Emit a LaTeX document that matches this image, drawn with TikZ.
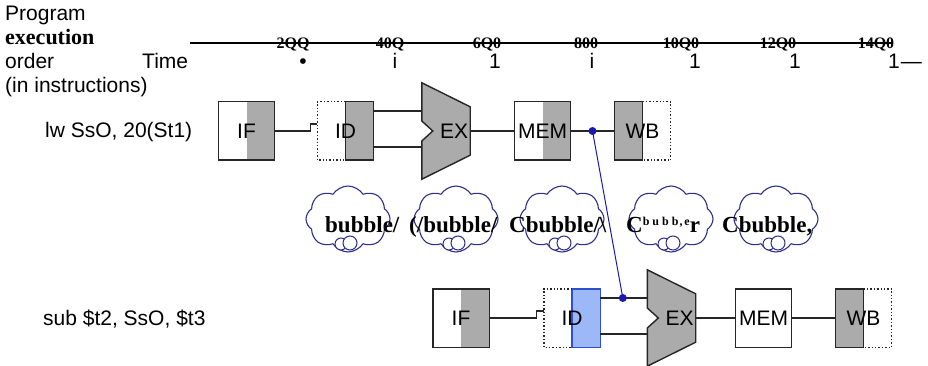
\documentclass[tikz,border=0pt]{standalone}
\usepackage{fontspec}
\setmainfont{Liberation Sans}
\newfontfamily\serif{Liberation Serif}
\usetikzlibrary{shapes.symbols,backgrounds,calc}
\definecolor{stagegray}{HTML}{ABABAB}
\definecolor{regblue}{HTML}{9DB8F7}
\definecolor{regborder}{HTML}{2F4FD0}
\definecolor{cloudblue}{HTML}{2E2E8C}
\definecolor{fwdblue}{HTML}{1A1AB0}
\begin{document}
\begin{tikzpicture}[x=1pt,y=-1pt,
  box/.style={line width=1.4pt, draw=black!85},
  dotb/.style={line width=1.4pt, dotted, draw=black!85},
  wire/.style={line width=1.3pt, draw=black!85},
  axis/.style={line width=1.3pt, draw=black},
  fwd/.style={line width=1pt, draw=fwdblue},
  stage/.style={minimum width=56pt, minimum height=58pt, inner sep=0pt, font=\fontsize{21}{21}\selectfont},
  alubox/.style={minimum width=48pt, minimum height=96pt, inner sep=0pt},
  cloudb/.style={cloud, cloud puffs=8, cloud puff arc=115, draw=cloudblue, line width=1.1pt, fill=white, minimum width=84pt, minimum height=66pt},
  lbl/.style={inner sep=0pt, font=\fontsize{21}{24}\selectfont},
  tick/.style={inner sep=0pt, font=\serif\bfseries\fontsize{16}{16}\selectfont},
  bub/.style={inner sep=0pt, font=\serif\bfseries\fontsize{23}{23}\selectfont}]
\useasboundingbox (0,0) rectangle (928,366);
% ---- left header text
\node[lbl,anchor=base west] (prog) at (5,21) {Program};
\node[lbl,anchor=base west,font=\serif\bfseries\fontsize{22}{24}\selectfont] (exec) at (5,45) {execution};
\node[lbl,anchor=base west] (order) at (5,69) {order};
\node[lbl,anchor=base west] (time) at (142,69) {Time};
\node[lbl,anchor=base west] (instr) at (5,93) {(in instructions)};
% ---- time axis
\coordinate (axL) at (190,43);
\coordinate (axR) at (893,43);
\draw[axis] (axL) -- (axR);
\foreach \x/\t/\n in {293/2QQ/a,390/40Q/b,487/6Q0/c,586/800/d,681/10Q0/e,778/12Q0/f,876/14Q0/g}
  \node[tick,anchor=base] (tk\n) at (\x,49) {\t};
\foreach \x/\t/\n in {303/•/a,395/i/b,495/1/c,592/i/d,695/1/e,795/1/f}
  \node[lbl,anchor=base] (mk\n) at (\x,69) {\t};
\node[lbl,anchor=base west] (mkg) at (888,69) {1\hspace{1pt}—};
% ---- instruction labels
\node[lbl,anchor=base west] (lw) at (45,138) {lw SsO, 20(St1)};
\node[lbl,anchor=base west] (sub) at (43,325) {sub \$t2, SsO, \$t3};
% ---- row 1 stages
\node[stage] (if1) at (246.5,131) {IF};
\node[stage] (id1) at (345.5,131) {ID};
\node[alubox] (ex1) at (446,131) {};
\node[stage,anchor=center] (ex1t) at (454,131) {EX};
\node[stage] (mem1) at (542.5,131) {MEM};
\node[stage] (wb1) at (642.5,131) {WB};
% ---- row 2 stages
\node[stage] (if2) at (461,318) {IF};
\node[stage] (id2) at (572,318) {ID};
\node[alubox] (ex2) at (671.5,318) {};
\node[stage] (ex2t) at (679.5,318) {EX};
\node[stage] (mem2) at (763.5,318) {MEM};
\node[stage] (wb2) at (863.5,318) {WB};
\begin{pgfonlayer}{background}
  % IF boxes
  \foreach \s in {if1,if2} {
    \fill[stagegray] (\s.north) rectangle (\s.south east);
    \draw[box] (\s.north west) rectangle (\s.south east);
  }
  % ID boxes
  \fill[stagegray] (id1.north) rectangle (id1.south east);
  \draw[box] (id1.north) rectangle (id1.south east);
  \draw[dotb] (id1.north) -- (id1.north west) -- (id1.south west) -- (id1.south);
  \fill[regblue] (id2.north) rectangle (id2.south east);
  \draw[box,draw=regborder] (id2.north) rectangle (id2.south east);
  \draw[dotb] (id2.north) -- (id2.north west) -- (id2.south west) -- (id2.south);
  % ALUs
  \foreach \s in {ex1,ex2}
    \draw[box,fill=stagegray] (\s.north west) -- ([yshift=-24pt]\s.north east)
      -- ([yshift=24pt]\s.south east) -- (\s.south west)
      -- ([yshift=-10pt]\s.west) -- ([xshift=11pt]\s.west)
      -- ([yshift=10pt]\s.west) -- cycle;
  % MEM
  \fill[stagegray] (mem1.north) rectangle (mem1.south east);
  \draw[box] (mem1.north west) rectangle (mem1.south east);
  \draw[box] (mem2.north west) rectangle (mem2.south east);
  % WB
  \foreach \s in {wb1,wb2} {
    \fill[stagegray] (\s.north west) rectangle (\s.south);
    \draw[box] (\s.north west) rectangle (\s.south);
    \draw[dotb] (\s.north) -- (\s.north east) -- (\s.south east) -- (\s.south);
  }
\end{pgfonlayer}
% ---- connectors
\foreach \r in {1,2} {
  \draw[wire] (if\r.east) -- ([xshift=-7pt]id\r.west) -- ([xshift=-7pt,yshift=7pt]id\r.west) -- ([yshift=7pt]id\r.west);
  \draw[wire] ([yshift=20pt]id\r.east) -- ([yshift=20pt]id\r.east -| ex\r.west);
  \draw[wire] ([yshift=-16pt]id\r.east) -- ([yshift=-16pt]id\r.east -| ex\r.west);
  \draw[wire] (ex\r.east) -- (mem\r.west);
  \draw[wire] (mem\r.east) -- (wb\r.west);
}
% ---- bubbles
\foreach \x/\n in {348/1,456/2,562/3,671/4,776/5} {
  \node[cloudb] (cl\n) at (\x,219) {};
  \draw[cloudblue, line width=1pt, fill=white] ([xshift=-7pt,yshift=-25pt]cl\n.center) circle (6pt);
  \draw[cloudblue, line width=1pt, fill=white] ([xshift=2pt,yshift=-24pt]cl\n.center) circle (7pt);
}
\node[bub,anchor=base west] (b1) at (325,232) {bubble/};
\node[bub,anchor=base west] (b2) at (409,232) {(/bubble/};
\node[bub,anchor=base west] (b3) at (509,232) {Cbubble/\textbackslash};
\node[bub,anchor=base west] (b4) at (626,232) {C\raisebox{7pt}{\fontsize{12}{12}\selectfont b\hspace{3pt}u\hspace{3pt}b\hspace{3pt}b\hspace{1pt},\hspace{2pt}e}r};
\node[bub,anchor=base west] (b5) at (722,232) {Cbubble,};
% ---- forwarding path
\coordinate (d1) at ($(mem1.east)!0.5!(wb1.west)$);
\coordinate (d2) at ($([yshift=20pt]id2.east)!0.48!([yshift=20pt]id2.east -| ex2.west)$);
\draw[fwd] (d1) -- (d2);
\fill[fwdblue] (d1) circle (4pt);
\fill[fwdblue] (d2) circle (4pt);
\end{tikzpicture}
\end{document}
